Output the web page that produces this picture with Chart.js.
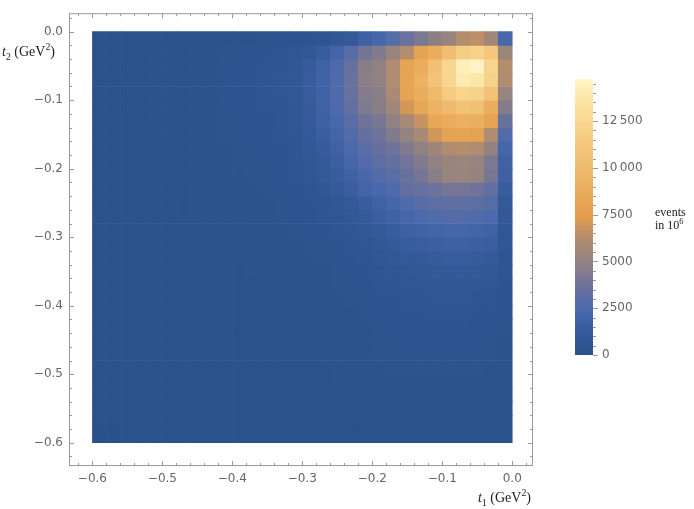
<!DOCTYPE html>
<html>
<head>
<meta charset="utf-8">
<script src="https://cdn.jsdelivr.net/npm/chart.js@4.4.1/dist/chart.umd.min.js"></script>
<style>
  html, body { margin: 0; padding: 0; background: #fff; }
  #wrap { position: relative; width: 694px; height: 509px; overflow: hidden; }
  #main { position: absolute; left: 0; top: 0; }
  #bar { position: absolute; left: 560px; top: 0; }
  .lbl { position: absolute; font-family: "Liberation Serif", "DejaVu Serif", serif; color: #222; white-space: nowrap; line-height: 1; }
  .lbl sub, .lbl sup { font-size: 70%; line-height: 0; }
</style>
</head>
<body>
<div id="wrap">
  <canvas id="main" width="540" height="509"></canvas>
  <canvas id="bar" width="134" height="509"></canvas>
  <div class="lbl" style="left:2px; top:45px; font-size:14px"><i>t</i><sub>2</sub> (GeV<sup>2</sup>)</div>
  <div class="lbl" style="left:478px; top:491px; font-size:14px"><i>t</i><sub>1</sub> (GeV<sup>2</sup>)</div>
  <div class="lbl" style="left:655px; top:206px; font-size:12px; line-height:13px">events<br>in 10<sup>6</sup></div>
</div>
<script>
// bin centres along t1, bin edges along t2 (top to bottom), GeV^2
const t1Centers = [-0.59, -0.57, -0.55, -0.53, -0.51, -0.49, -0.47, -0.45, -0.43, -0.41,
                   -0.39, -0.37, -0.35, -0.33, -0.31, -0.29, -0.27, -0.25, -0.23, -0.21,
                   -0.19, -0.17, -0.15, -0.13, -0.11, -0.09, -0.07, -0.05, -0.03, -0.01];
const t2Edges = [0, -0.02, -0.04, -0.06, -0.08, -0.10, -0.12, -0.14, -0.16, -0.18, -0.20,
                 -0.22, -0.24, -0.26, -0.28, -0.30, -0.32, -0.34, -0.36, -0.38, -0.40,
                 -0.42, -0.44, -0.46, -0.48, -0.50, -0.52, -0.54, -0.56, -0.58, -0.60];

const t1Ticks = [-0.6, -0.5, -0.4, -0.3, -0.2, -0.1, 0];
const t2Ticks = [0, -0.1, -0.2, -0.3, -0.4, -0.5, -0.6];
const barTicks = [0, 2500, 5000, 7500, 10000, 12500];
const scaleMax = 14750;

// events in 10^6, one row per t2 bin (top row first), one column per t1 bin
const events = [
  [100,100,100,120,120,130,140,150,170,200, 300,300,350,400,450,550,700,900,1200,1700, 2200,2800,3600,4200,4800,5200,6300,6500,5600,2300],
  [150,160,170,180,200,220,240,270,300,350, 400,450,500,600,800,1000,1400,2000,2900,3900, 4400,5200,6300,8000,8800,10300,11700,12100,11200,5400],
  [160,170,180,190,210,230,250,280,320,380, 450,500,600,700,900,1300,1800,2500,3500,4600, 4900,6200,8000,8800,10500,12400,14200,14700,12300,6300],
  [160,170,180,190,210,230,250,280,320,380, 450,500,600,750,950,1400,1900,2600,3600,4700, 4900,6200,8100,9200,10800,12400,14000,13700,12100,6200],
  [160,170,180,190,210,230,250,280,320,380, 450,500,600,750,950,1400,1900,2600,3500,4500, 4700,6000,8000,8800,10000,11500,12300,12100,10700,5200],
  [160,170,180,190,210,230,250,280,320,380, 450,500,600,700,900,1300,1800,2500,3300,4300, 4600,5600,7000,8300,9300,10000,10700,10500,8800,4500],
  [150,160,170,180,200,220,240,270,300,350, 400,450,550,650,850,1200,1700,2300,3000,3800, 4100,4900,5900,6700,8300,8800,9000,8900,8100,3500],
  [150,160,170,180,200,220,240,270,300,350, 400,450,500,600,800,1100,1500,2000,2700,3400, 3800,4400,5100,5900,7000,7900,8100,7900,6200,2700],
  [140,150,160,170,190,200,220,250,280,320, 350,400,450,550,700,1000,1300,1800,2400,3000, 3400,3800,4400,4900,5500,6200,6300,6100,5000,2100],
  [140,150,160,170,190,200,220,250,280,320, 350,350,400,500,650,900,1200,1600,2100,2700, 3100,3400,3900,4400,4900,5300,5400,5200,4200,1800],
  [130,140,150,160,170,180,200,220,250,280, 300,350,400,450,600,800,1100,1400,1800,2300, 2700,3000,3500,4000,4600,5200,5300,5100,4100,1700],
  [130,140,150,160,170,180,200,220,250,280, 300,300,350,400,550,700,900,1200,1500,2000, 2300,2600,3300,3500,3700,4000,4000,3800,3300,1400],
  [120,130,140,150,160,170,180,200,220,240, 250,300,300,350,450,550,700,900,1100,1400, 1800,2100,2600,2900,3100,3200,3200,3100,2800,1100],
  [120,130,140,150,160,170,180,200,220,240, 250,250,300,350,400,450,600,750,950,1200, 1500,1800,2100,2400,2600,2700,2700,2600,2400,1000],
  [110,120,130,140,150,150,160,170,180,200, 200,250,250,300,350,400,500,600,800,1000, 1200,1400,1700,1900,2000,2100,2100,2000,1800,900],
  [110,120,130,140,150,150,160,170,180,200, 200,200,250,250,300,350,400,500,650,800, 1000,1200,1400,1500,1600,1700,1700,1600,1500,800],
  [110,120,130,140,150,150,160,170,180,200, 200,200,200,250,250,300,350,450,550,700, 850,1000,1100,1200,1300,1400,1400,1300,1200,700],
  [100,110,120,130,130,140,140,150,160,170, 150,200,200,200,250,250,300,400,450,550, 700,800,900,1000,1100,1100,1100,1100,1000,600],
  [100,110,120,130,130,140,140,150,160,170, 150,150,200,200,200,250,300,350,400,450, 600,650,750,800,900,900,900,850,800,500],
  [100,110,120,130,130,140,140,150,160,170, 150,150,150,200,200,200,250,300,350,400, 500,550,600,700,750,750,750,700,650,450],
  [90,100,100,110,110,120,120,130,130,140, 150,150,150,150,200,200,200,250,300,350, 450,450,500,550,600,600,600,550,500,400],
  [90,100,100,110,110,120,120,130,130,140, 100,150,150,150,150,150,200,200,250,300, 400,400,450,450,500,500,500,450,450,350],
  [90,100,100,110,110,120,120,130,130,140, 100,100,150,150,150,150,200,200,250,300, 350,350,400,400,450,450,450,400,400,300],
  [90,100,100,110,110,120,120,130,130,140, 100,100,100,150,150,150,200,200,250,300, 350,350,400,400,400,400,400,400,350,300],
  [80,90,90,100,100,100,110,110,110,120, 100,100,100,100,150,150,150,200,250,300, 300,350,350,350,350,350,350,350,300,250],
  [80,90,90,100,100,100,110,110,110,120, 100,100,100,100,100,150,150,200,200,250, 300,300,300,300,300,300,300,300,300,250],
  [80,90,90,100,100,100,110,110,110,120, 100,100,100,100,100,150,150,150,200,250, 250,250,300,300,300,300,300,300,250,200],
  [80,90,90,100,100,100,110,110,110,120, 100,100,100,100,100,100,150,150,200,200, 250,250,250,250,250,250,250,250,250,200],
  [70,70,80,80,80,90,90,90,100,100, 80,80,90,100,100,110,120,150,150,200, 200,200,200,200,200,200,200,200,200,150],
  [60,60,70,70,70,80,80,80,90,90, 70,70,80,80,90,100,100,120,140,150, 150,150,150,150,150,150,150,150,150,100],
];

// blue -> grey -> orange -> cream
const paletteStops = [
  [0.00, [42, 81, 137]],
  [0.08, [52, 90, 152]],
  [0.16, [74, 105, 173]],
  [0.25, [108, 114, 155]],
  [0.33, [143, 129, 131]],
  [0.42, [176, 140, 112]],
  [0.50, [226, 155, 76]],
  [0.60, [234, 174, 94]],
  [0.70, [240, 190, 114]],
  [0.80, [246, 206, 133]],
  [0.90, [251, 225, 158]],
  [1.00, [255, 245, 200]],
];

function colorFor(v) {
  const t = Math.max(0, Math.min(1, v / scaleMax));
  for (let i = 1; i < paletteStops.length; i++) {
    const [t1, c1] = paletteStops[i];
    if (t <= t1) {
      const [t0, c0] = paletteStops[i - 1];
      const f = (t - t0) / (t1 - t0);
      const c = c0.map((a, k) => Math.round(a + (c1[k] - a) * f));
      return `rgb(${c[0]},${c[1]},${c[2]})`;
    }
  }
  return 'rgb(255,245,200)';
}

const fmt = v => (v < -1e-9 ? '\u2212' : '') + Math.abs(v).toFixed(1);
const fmtBar = v => v >= 10000 ? String(v).replace(/(\d{3})$/, '\u2009$1') : String(v);

const tickFont = { family: 'DejaVu Sans', size: 12 };
const tickColor = '#666';
const frameColor = '#9a9a9a';

// frame with inward ticks on all four sides
const frame = {
  id: 'frame',
  afterDatasetsDraw(chart) {
    const { ctx, chartArea: a, scales: { x, y } } = chart;
    ctx.save();
    ctx.strokeStyle = frameColor;
    ctx.lineWidth = 1;
    ctx.strokeRect(a.left + 0.5, a.top + 0.5, a.right - a.left - 1, a.bottom - a.top - 1);
    ctx.beginPath();
    for (let k = -31; k <= 1; k++) {
      const v = k / 50;
      const len = k % 5 === 0 ? 5 : 3;
      const px = Math.round(x.getPixelForValue(v)) + 0.5;
      ctx.moveTo(px, a.bottom); ctx.lineTo(px, a.bottom - len);
      ctx.moveTo(px, a.top); ctx.lineTo(px, a.top + len);
      const py = Math.round(y.getPixelForValue(v)) + 0.5;
      ctx.moveTo(a.left, py); ctx.lineTo(a.left + len, py);
      ctx.moveTo(a.right, py); ctx.lineTo(a.right - len, py);
    }
    ctx.stroke();
    ctx.restore();
  }
};

const datasets = events.map((row, r) => ({
  data: t1Centers.map(x => ({ x: x, y: [t2Edges[r + 1], t2Edges[r]] })),
  backgroundColor: row.map(colorFor),
  borderWidth: 0,
  grouped: false,
  barPercentage: 1,
  categoryPercentage: 1,
}));

new Chart(document.getElementById('main'), {
  type: 'bar',
  data: { datasets: datasets },
  options: {
    responsive: false,
    animation: false,
    devicePixelRatio: 1,
    layout: { padding: { top: 4, right: 7, left: 0, bottom: 0 } },
    plugins: { legend: { display: false }, tooltip: { enabled: false } },
    events: [],
    scales: {
      x: {
        type: 'linear',
        min: -0.6335,
        max: 0.0297,
        offset: false,
        grid: { display: false, drawTicks: false },
        border: { display: false },
        afterBuildTicks: s => { s.ticks = t1Ticks.map(v => ({ value: v })); },
        afterFit: s => { s.height = 43; },
        ticks: { callback: v => fmt(v), font: tickFont, color: tickColor, padding: 6, maxRotation: 0, autoSkip: false },
      },
      y: {
        type: 'linear',
        min: -0.634,
        max: 0.027,
        grid: { display: false, drawTicks: false },
        border: { display: false },
        afterBuildTicks: s => { s.ticks = t2Ticks.map(v => ({ value: v })); },
        afterFit: s => { s.width = 69; },
        ticks: { callback: v => fmt(v), font: tickFont, color: tickColor, padding: 6, autoSkip: false },
      },
    },
  },
  plugins: [frame],
});

// colour bar
const barTickMarks = {
  id: 'barTickMarks',
  afterDatasetsDraw(chart) {
    const { ctx, chartArea: a, scales: { y } } = chart;
    ctx.save();
    ctx.strokeStyle = frameColor;
    ctx.lineWidth = 1;
    ctx.beginPath();
    for (let v = 0; v <= scaleMax; v += 500) {
      const len = v % 2500 === 0 ? 5 : 3;
      const py = Math.round(y.getPixelForValue(v)) + 0.5;
      ctx.moveTo(a.right, py); ctx.lineTo(a.right + len, py);
    }
    ctx.stroke();
    ctx.restore();
  }
};

new Chart(document.getElementById('bar'), {
  type: 'bar',
  data: {
    labels: [''],
    datasets: [{
      data: [[0, scaleMax]],
      backgroundColor: c => {
        const chart = c.chart;
        if (!chart.chartArea) return null;
        const y = chart.scales.y;
        const g = chart.ctx.createLinearGradient(0, y.getPixelForValue(0), 0, y.getPixelForValue(scaleMax));
        paletteStops.forEach(([t, col]) => g.addColorStop(t, `rgb(${col[0]},${col[1]},${col[2]})`));
        return g;
      },
      borderWidth: 0,
      barPercentage: 1,
      categoryPercentage: 1,
    }],
  },
  options: {
    responsive: false,
    animation: false,
    devicePixelRatio: 1,
    layout: { padding: { top: 79, bottom: 154, left: 15, right: 0 } },
    plugins: { legend: { display: false }, tooltip: { enabled: false } },
    events: [],
    scales: {
      x: { display: false },
      y: {
        position: 'right',
        min: 0,
        max: scaleMax,
        grid: { display: false, drawTicks: false },
        border: { display: false },
        afterBuildTicks: s => { s.ticks = barTicks.map(v => ({ value: v })); },
        afterFit: s => { s.width = 101; },
        ticks: { callback: v => fmtBar(v), font: tickFont, color: tickColor, padding: 9, autoSkip: false },
      },
    },
  },
  plugins: [barTickMarks],
});
</script>
</body>
</html>
